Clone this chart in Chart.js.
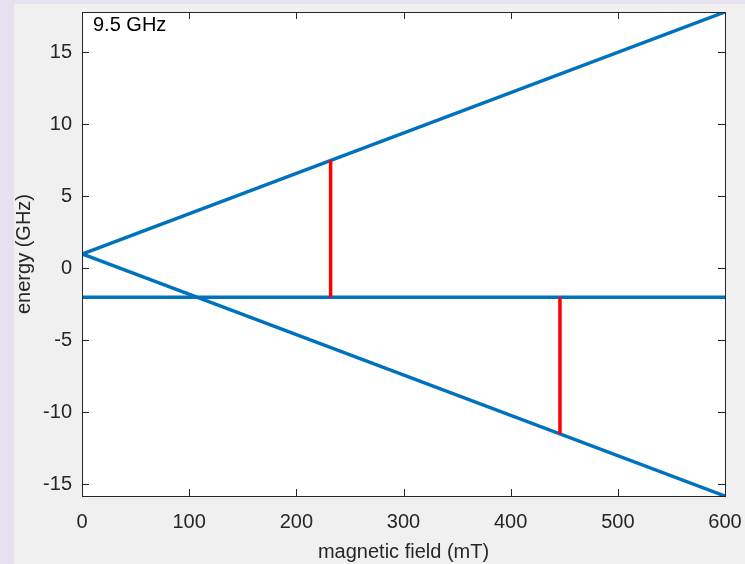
<!DOCTYPE html>
<html>
<head>
<meta charset="utf-8">
<script src="https://cdn.jsdelivr.net/npm/chart.js@4/dist/chart.umd.min.js"></script>
<style>
  html, body { margin: 0; padding: 0; background: #e6e1ee; }
  #wrap { position: absolute; left: 14px; top: 4px; width: 731px; height: 560px; background: #f0f0f0; }
</style>
</head>
<body>
<div id="wrap"><canvas id="chart"></canvas></div>
<script>
// ── Data ───────────────────────────────────────────────────
const fieldEnds      = [0, 600];          // mT
const upperLevel     = [1, 17.8];         // GHz
const lowerLevel     = [1, -15.8];
const middleLevel    = [-2, -2];
const transitionField = [232, 446];       // mT
const transitionFrom  = [-2, -2];         // GHz
const transitionTo    = [7.5, -11.5];

const xTicks = [0, 100, 200, 300, 400, 500, 600];
const yTicks = [-15, -10, -5, 0, 5, 10, 15];
const yRange = [-15.8, 17.8];
const freqLabel = '9.5 GHz';

const BLUE = '#0072BD';
const RED  = '#FF0000';
const INK  = '#262626';
const FONT = '"Liberation Sans", Arial, sans-serif';

const pts = (xs, ys) => xs.map((x, i) => ({ x, y: ys[i] }));

const lineSet = (data, color, order) => ({
    data, borderColor: color, borderWidth: 3.5, pointRadius: 0,
    showLine: true, fill: false, order
});

const datasets = [
    lineSet(pts(fieldEnds, upperLevel), BLUE, 1),
    lineSet(pts(fieldEnds, lowerLevel), BLUE, 1),
    lineSet(pts(fieldEnds, middleLevel), BLUE, 1),
    ...transitionField.map((f, i) =>
        lineSet(pts([f, f], [transitionFrom[i], transitionTo[i]]), RED, 0))
];

// ── Axes box, inward ticks, annotation ─────────────────────
const boxPlugin = {
    id: 'box',
    beforeDatasetsDraw(chart) {
        const { ctx, chartArea: a } = chart;
        ctx.save();
        ctx.fillStyle = '#ffffff';
        ctx.fillRect(a.left, a.top, a.right - a.left, a.bottom - a.top);
        ctx.restore();
    },
    afterDatasetsDraw(chart) {
        const { ctx, chartArea: a, scales } = chart;
        const len = 7;
        ctx.save();
        ctx.strokeStyle = INK;
        ctx.lineWidth = 1;
        ctx.beginPath();
        xTicks.forEach(v => {
            const px = Math.round(scales.x.getPixelForValue(v)) + 0.5;
            ctx.moveTo(px, a.bottom); ctx.lineTo(px, a.bottom - len);
            ctx.moveTo(px, a.top);    ctx.lineTo(px, a.top + len);
        });
        yTicks.forEach(v => {
            const py = Math.round(scales.y.getPixelForValue(v)) + 0.5;
            ctx.moveTo(a.left, py);  ctx.lineTo(a.left + len, py);
            ctx.moveTo(a.right, py); ctx.lineTo(a.right - len, py);
        });
        ctx.stroke();
        ctx.strokeRect(Math.round(a.left) + 0.5, Math.round(a.top) + 0.5,
                       Math.round(a.right - a.left), Math.round(a.bottom - a.top));
        ctx.fillStyle = '#000';
        ctx.font = '20px ' + FONT;
        ctx.textBaseline = 'middle';
        ctx.fillText(freqLabel, a.left + 11, a.top + 13);
        ctx.restore();
    }
};

new Chart(document.getElementById('chart'), {
    type: 'scatter',
    data: { datasets },
    plugins: [boxPlugin],
    options: {
        responsive: true,
        maintainAspectRatio: false,
        animation: false,
        layout: { padding: { top: 8, right: 20, left: 0, bottom: 0 } },
        plugins: { legend: { display: false }, tooltip: { enabled: false } },
        scales: {
            x: {
                type: 'linear', min: fieldEnds[0], max: fieldEnds[1],
                afterBuildTicks: s => { s.ticks = xTicks.map(v => ({ value: v })); },
                afterFit: s => { s.height = 68; s.paddingLeft = 0; s.paddingRight = 0; },
                grid: { display: false, drawTicks: false },
                border: { display: false },
                ticks: { color: INK, font: { family: FONT, size: 20 }, padding: 14, maxRotation: 0 },
                title: { display: true, text: 'magnetic field (mT)', color: INK,
                         font: { family: FONT, size: 20 }, padding: 0 }
            },
            y: {
                type: 'linear', min: yRange[0], max: yRange[1],
                afterBuildTicks: s => { s.ticks = yTicks.map(v => ({ value: v })); },
                afterFit: s => { s.width = 68; s.paddingTop = 0; s.paddingBottom = 0; },
                grid: { display: false, drawTicks: false },
                border: { display: false },
                ticks: { color: INK, font: { family: FONT, size: 20 }, padding: 10 },
                title: { display: true, text: 'energy (GHz)', color: INK,
                         font: { family: FONT, size: 20, lineHeight: 1 }, padding: 0 }
            }
        }
    }
});
</script>
</body>
</html>
